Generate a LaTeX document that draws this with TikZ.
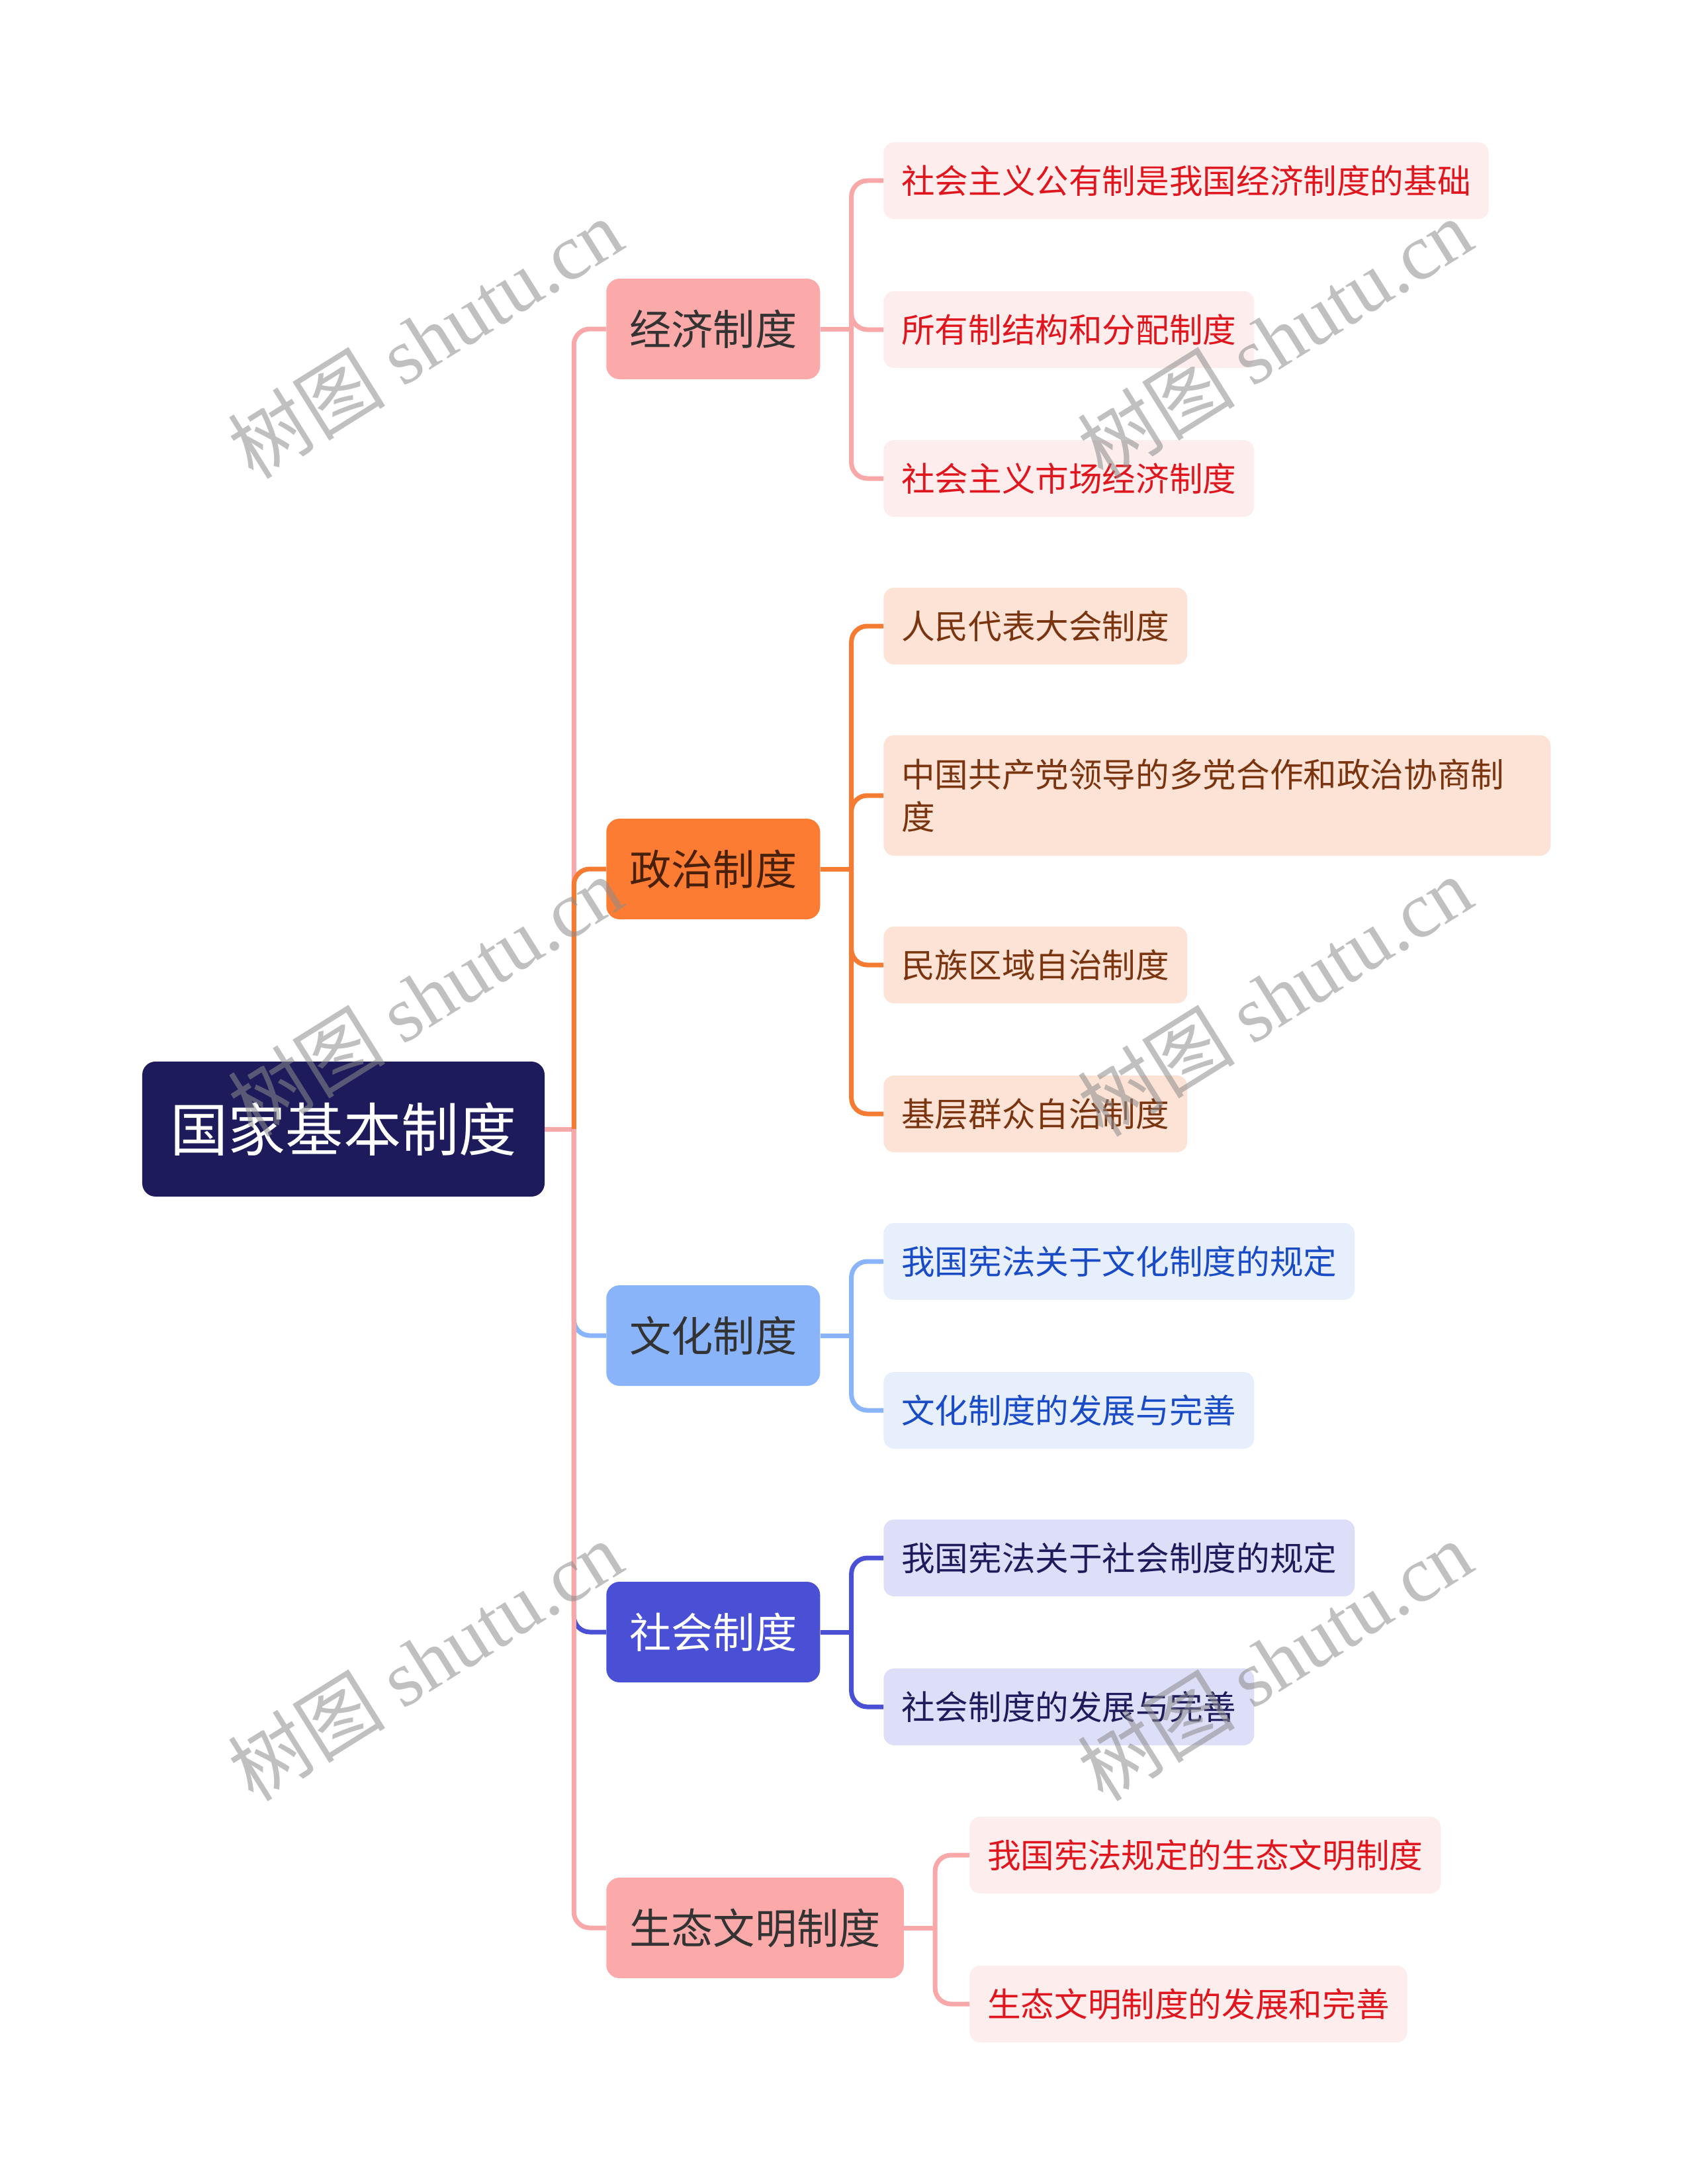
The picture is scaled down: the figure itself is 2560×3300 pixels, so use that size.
\documentclass[tikz,border=0pt]{standalone}
\usepackage{fontspec}
\setmainfont{Noto Sans CJK SC}
\newfontfamily\wmfont{Liberation Serif}
\usepackage{tikz}
\usetikzlibrary{positioning}
\definecolor{navy}{HTML}{1D1B5B}
\definecolor{jjfill}{HTML}{FCA9A9}
\definecolor{jjpale}{HTML}{FDEDED}
\definecolor{jjtext}{HTML}{E0161E}
\definecolor{jjline}{HTML}{F8A8A8}
\definecolor{zzfill}{HTML}{FD7C34}
\definecolor{zzpale}{HTML}{FDE3D5}
\definecolor{zztext}{HTML}{7A3510}
\definecolor{zzline}{HTML}{F47B31}
\definecolor{whfill}{HTML}{8AB4F9}
\definecolor{whpale}{HTML}{E7EFFD}
\definecolor{whtext}{HTML}{1A4BC6}
\definecolor{shfill}{HTML}{4A50D5}
\definecolor{shpale}{HTML}{DDDEF7}
\definecolor{dark}{HTML}{333333}
\tikzstyle{rootbox}=[rounded corners=5mm,fill=navy,text=white,minimum width=152mm,minimum height=51mm,font=\fontsize{62pt}{70pt}\selectfont]
\tikzstyle{topic}=[rounded corners=5mm,anchor=west,minimum height=38mm,inner xsep=8.75mm,font=\fontsize{45pt}{54pt}\selectfont]
\tikzstyle{sub}=[rounded corners=4mm,anchor=west,minimum height=29mm,inner xsep=6.75mm,font=\fontsize{36pt}{46pt}\selectfont]
\tikzstyle{jjsub}=[sub,fill=jjpale,text=jjtext]
\tikzstyle{zzsub}=[sub,fill=zzpale,text=zztext]
\tikzstyle{whsub}=[sub,fill=whpale,text=whtext]
\tikzstyle{shsub}=[sub,fill=shpale,text=navy]
\tikzstyle{link}=[line width=1.75mm,rounded corners=6mm]
\tikzstyle{watermark}=[text=black!45,text opacity=0.55,rotate=32,font=\fontsize{85pt}{90pt}\selectfont]

\begin{document}
\begin{tikzpicture}[x=0.25mm,y=-0.25mm]
    \useasboundingbox (0,0) rectangle (2560,3300);
    % root and the five topics
    \node[rootbox] (root) at (519,1706) {国家基本制度};
    \node[topic,fill=jjfill,text=dark] (jj) at (916,497) {经济制度};
    \node[topic,fill=zzfill,text=zztext!60!black] (zz) at (916,1313) {政治制度};
    \node[topic,fill=whfill,text=dark] (wh) at (916,2018) {文化制度};
    \node[topic,fill=shfill,text=white] (sh) at (916,2466) {社会制度};
    \node[topic,fill=jjfill,text=dark] (st) at (916,2913) {生态文明制度};
    % the subtopics
    \foreach \pos/\name/\txt in {{(1335,273)/jj1/社会主义公有制是我国经济制度的基础}, {(1335,498)/jj2/所有制结构和分配制度}, {(1335,723)/jj3/社会主义市场经济制度}}
        \node[jjsub] (\name) at \pos {\txt};
    \node[zzsub] (zz1) at (1335,946) {人民代表大会制度};
    \node[zzsub,align=left,text width=238.5mm,minimum height=45.5mm] (zz2) at (1335,1202) {中国共产党领导的多党合作和政治协商制\\度};
    \node[zzsub] (zz3) at (1335,1458) {民族区域自治制度};
    \node[zzsub] (zz4) at (1335,1683) {基层群众自治制度};
    \foreach \pos/\name/\txt in {{(1335,1906)/wh1/我国宪法关于文化制度的规定}, {(1335,2131)/wh2/文化制度的发展与完善}}
        \node[whsub] (\name) at \pos {\txt};
    \foreach \pos/\name/\txt in {{(1335,2354)/sh1/我国宪法关于社会制度的规定}, {(1335,2579)/sh2/社会制度的发展与完善}}
        \node[shsub] (\name) at \pos {\txt};
    \foreach \pos/\name/\txt in {{(1465,2803)/st1/我国宪法规定的生态文明制度}, {(1465,3028)/st2/生态文明制度的发展和完善}}
        \node[jjsub] (\name) at \pos {\txt};
    % trunk from the root
    \coordinate (trunk) at ([xshift=11mm]root.east);
    \draw[link,draw=jjline] (root.east) -- (trunk);
    \foreach \kid/\col in {jj/jjline, zz/zzline, wh/whfill, sh/shfill, st/jjline}
        \draw[link,draw=\col] (trunk) |- (\kid.west);
    % branches to the subtopics
    \coordinate (jjfork) at ([xshift=11.75mm]jj.east);
    \draw[link,draw=jjline] (jj.east) -- (jjfork);
    \foreach \kid in {jj1,jj2,jj3}
        \draw[link,draw=jjline] (jjfork) |- (\kid.west);
    \coordinate (zzfork) at ([xshift=11.75mm]zz.east);
    \draw[link,draw=zzline] (zz.east) -- (zzfork);
    \foreach \kid in {zz1,zz2,zz3,zz4}
        \draw[link,draw=zzline] (zzfork) |- (\kid.west);
    \coordinate (whfork) at ([xshift=11.75mm]wh.east);
    \draw[link,draw=whfill] (wh.east) -- (whfork);
    \foreach \kid in {wh1,wh2}
        \draw[link,draw=whfill] (whfork) |- (\kid.west);
    \coordinate (shfork) at ([xshift=11.75mm]sh.east);
    \draw[link,draw=shfill] (sh.east) -- (shfork);
    \foreach \kid in {sh1,sh2}
        \draw[link,draw=shfill] (shfork) |- (\kid.west);
    \coordinate (stfork) at ([xshift=11.75mm]st.east);
    \draw[link,draw=jjline] (st.east) -- (stfork);
    \foreach \kid in {st1,st2}
        \draw[link,draw=jjline] (stfork) |- (\kid.west);
    % watermarks
    \foreach \pos/\name in {{(642,511)/wm1}, {(1926,511)/wm2}, {(642,1505)/wm3}, {(1926,1505)/wm4}, {(642,2509)/wm5}, {(1926,2509)/wm6}}
        \node[watermark] (\name) at \pos {树图 {\wmfont shutu.cn}};
\end{tikzpicture}
\end{document}
